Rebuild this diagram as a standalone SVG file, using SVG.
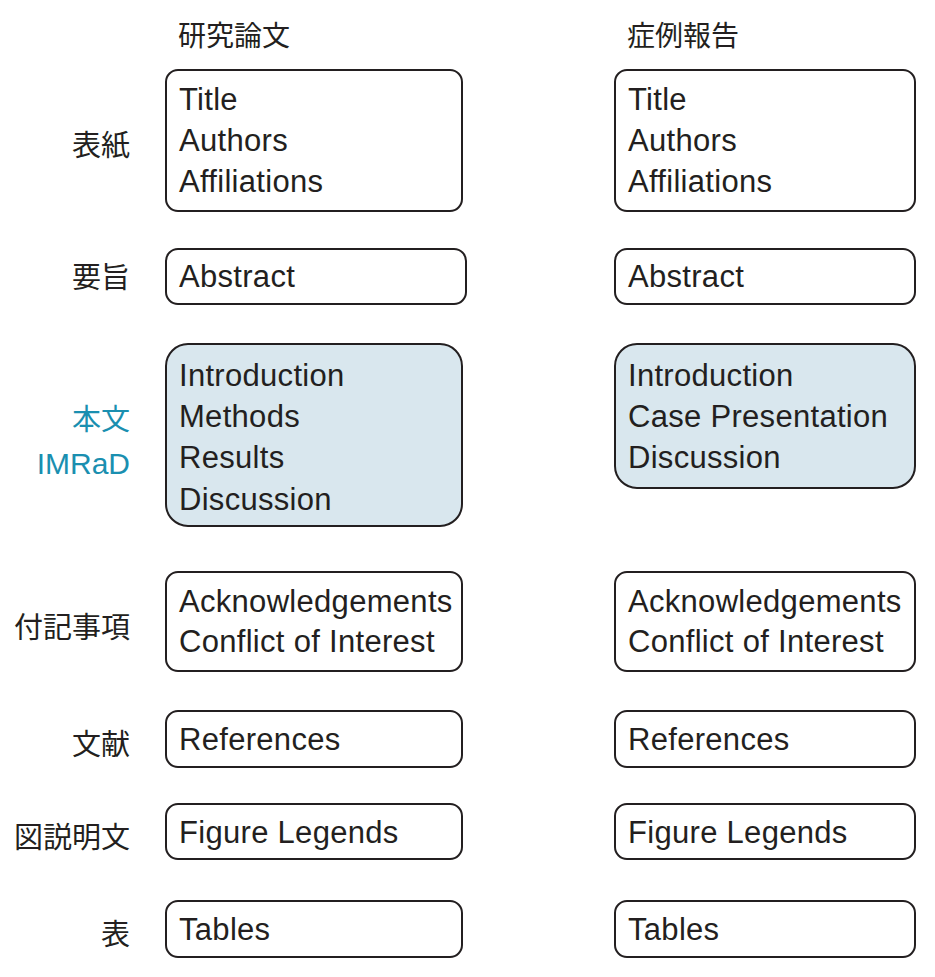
<svg xmlns="http://www.w3.org/2000/svg" width="935" height="977" viewBox="0 0 935 977">
<style>
.b{fill:#fff;stroke:#231f20;stroke-width:2}
.f{fill:#d9e7ee}
.t{font-family:"Liberation Sans","Noto Sans CJK JP",sans-serif;font-size:31px;fill:#231f20;letter-spacing:0.3px}
.h{font-family:"Noto Sans CJK JP",sans-serif;font-size:28px;fill:#231f20}
.l{font-family:"Noto Sans CJK JP","Liberation Sans",sans-serif;font-size:29px;fill:#231f20;text-anchor:end}
.c{fill:#1a8fb0}
.m{font-family:"Liberation Sans",sans-serif;font-size:30px}
</style>
<rect width="935" height="977" fill="#fff"/>
<g id="headers"><text class="h" x="178" y="46">研究論文</text><text class="h" x="627" y="46">症例報告</text></g>
<g id="labels">
<text class="l" x="130" y="156">表紙</text>
<text class="l" x="130" y="288">要旨</text>
<text class="l c" x="130" y="430">本文</text>
<text class="l c m" x="130" y="474">IMRaD</text>
<text class="l" x="130" y="638">付記事項</text>
<text class="l" x="130" y="755">文献</text>
<text class="l" x="130" y="848">図説明文</text>
<text class="l" x="130" y="945">表</text>
</g>
<g id="left">
<g id="l1"><rect class="b" x="166" y="70" width="296" height="141" rx="12"/><text class="t" x="179" y="110">Title</text><text class="t" x="179" y="151">Authors</text><text class="t" x="179" y="192">Affiliations</text></g>
<g id="l2"><rect class="b" x="166" y="249" width="300" height="55" rx="12"/><text class="t" x="179" y="287">Abstract</text></g>
<g id="l3"><rect class="b f" x="166" y="344" width="296" height="182" rx="22"/><text class="t" x="179" y="386">Introduction</text><text class="t" x="179" y="427">Methods</text><text class="t" x="179" y="468">Results</text><text class="t" x="179" y="510">Discussion</text></g>
<g id="l4"><rect class="b" x="166" y="572" width="296" height="99" rx="12"/><text class="t" x="179" y="612">Acknowledgements</text><text class="t" x="179" y="652">Conflict of Interest</text></g>
<g id="l5"><rect class="b" x="166" y="711" width="296" height="56" rx="12"/><text class="t" x="179" y="750">References</text></g>
<g id="l6"><rect class="b" x="166" y="804" width="296" height="55" rx="12"/><text class="t" x="179" y="843">Figure Legends</text></g>
<g id="l7"><rect class="b" x="166" y="901" width="296" height="56" rx="12"/><text class="t" x="179" y="940">Tables</text></g>
</g>
<g id="right">
<g id="r1"><rect class="b" x="615" y="70" width="300" height="141" rx="12"/><text class="t" x="628" y="110">Title</text><text class="t" x="628" y="151">Authors</text><text class="t" x="628" y="192">Affiliations</text></g>
<g id="r2"><rect class="b" x="615" y="249" width="300" height="55" rx="12"/><text class="t" x="628" y="287">Abstract</text></g>
<g id="r3"><rect class="b f" x="615" y="344" width="300" height="144" rx="22"/><text class="t" x="628" y="386">Introduction</text><text class="t" x="628" y="427">Case Presentation</text><text class="t" x="628" y="468">Discussion</text></g>
<g id="r4"><rect class="b" x="615" y="572" width="300" height="99" rx="12"/><text class="t" x="628" y="612">Acknowledgements</text><text class="t" x="628" y="652">Conflict of Interest</text></g>
<g id="r5"><rect class="b" x="615" y="711" width="300" height="56" rx="12"/><text class="t" x="628" y="750">References</text></g>
<g id="r6"><rect class="b" x="615" y="804" width="300" height="55" rx="12"/><text class="t" x="628" y="843">Figure Legends</text></g>
<g id="r7"><rect class="b" x="615" y="901" width="300" height="56" rx="12"/><text class="t" x="628" y="940">Tables</text></g>
</g>
<g id="connectors"/>
</svg>
